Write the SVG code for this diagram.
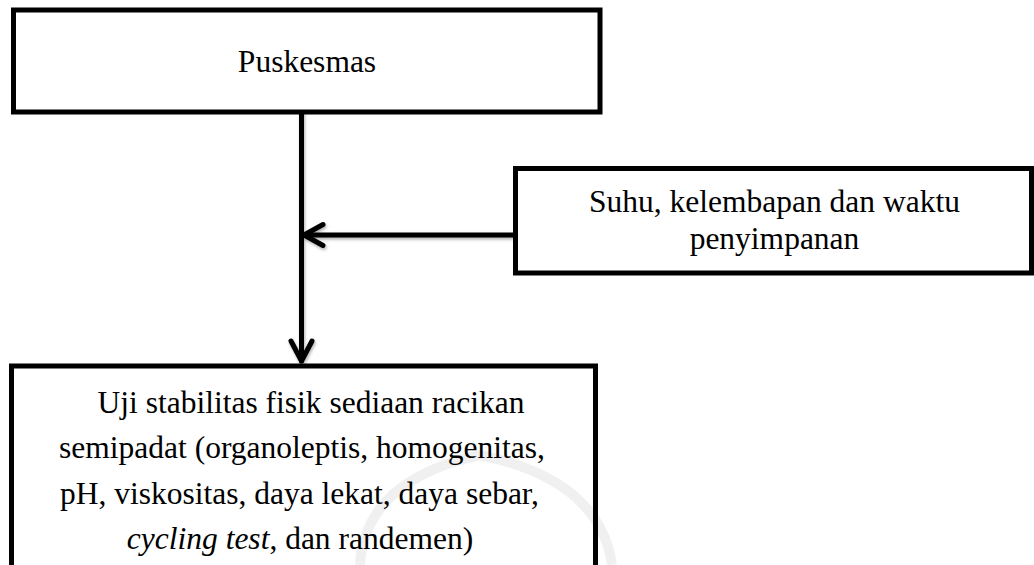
<svg xmlns="http://www.w3.org/2000/svg" width="1034" height="565" viewBox="0 0 1034 565">
  <style>
    .box { fill: #ffffff; stroke: #000000; stroke-width: 5; }
    .lbl { font-family: "Liberation Serif", "Times New Roman", serif; font-size: 31.5px; fill: #000000; text-anchor: middle; }
    .it { font-style: italic; }
    .conn { fill: none; stroke: #000000; stroke-width: 5; stroke-linecap: round; stroke-linejoin: round; }
    .wm { fill: none; stroke: #000000; stroke-opacity: 0.06; stroke-width: 10; }
  </style>
  <defs>
    <filter id="shadow" x="-20%" y="-20%" width="140%" height="140%">
      <feDropShadow dx="1" dy="2" stdDeviation="1.5" flood-color="#000000" flood-opacity="0.3"/>
    </filter>
  </defs>
  <rect width="1034" height="565" fill="#ffffff"/>

  <g id="connectors" filter="url(#shadow)">
    <path class="conn" d="M 301.5 112 L 301.5 361"/>
    <path class="conn" d="M 291 341 L 301.5 361 L 312 341"/>
    <path class="conn" d="M 515.5 235 L 304 235"/>
    <path class="conn" d="M 323 224.5 L 304 235 L 323 245.5"/>
  </g>

  <g id="node-puskesmas">
    <rect class="box" x="13.5" y="10" width="586.5" height="102"/>
    <text class="lbl" x="307" y="72">Puskesmas</text>
  </g>

  <g id="node-suhu">
    <rect class="box" x="515.5" y="168.5" width="516" height="104.5"/>
    <text class="lbl" x="774.5" y="212">Suhu, kelembapan dan waktu</text>
    <text class="lbl" x="774.5" y="249">penyimpanan</text>
  </g>

  <g id="node-uji">
    <rect class="box" x="11.5" y="366" width="584" height="240"/>
    <text class="lbl" x="311" y="413">Uji stabilitas fisik sediaan racikan</text>
    <text class="lbl" x="302" y="458">semipadat (organoleptis, homogenitas,</text>
    <text class="lbl" x="299.5" y="503.5">pH, viskositas, daya lekat, daya sebar,</text>
    <text class="lbl" x="300" y="549"><tspan class="it">cycling test</tspan>, dan randemen)</text>
  </g>

  <g id="watermark">
    <path class="wm" d="M 360 565 Q 365 480 480 455 Q 600 480 612 565"/>
  </g>
</svg>
